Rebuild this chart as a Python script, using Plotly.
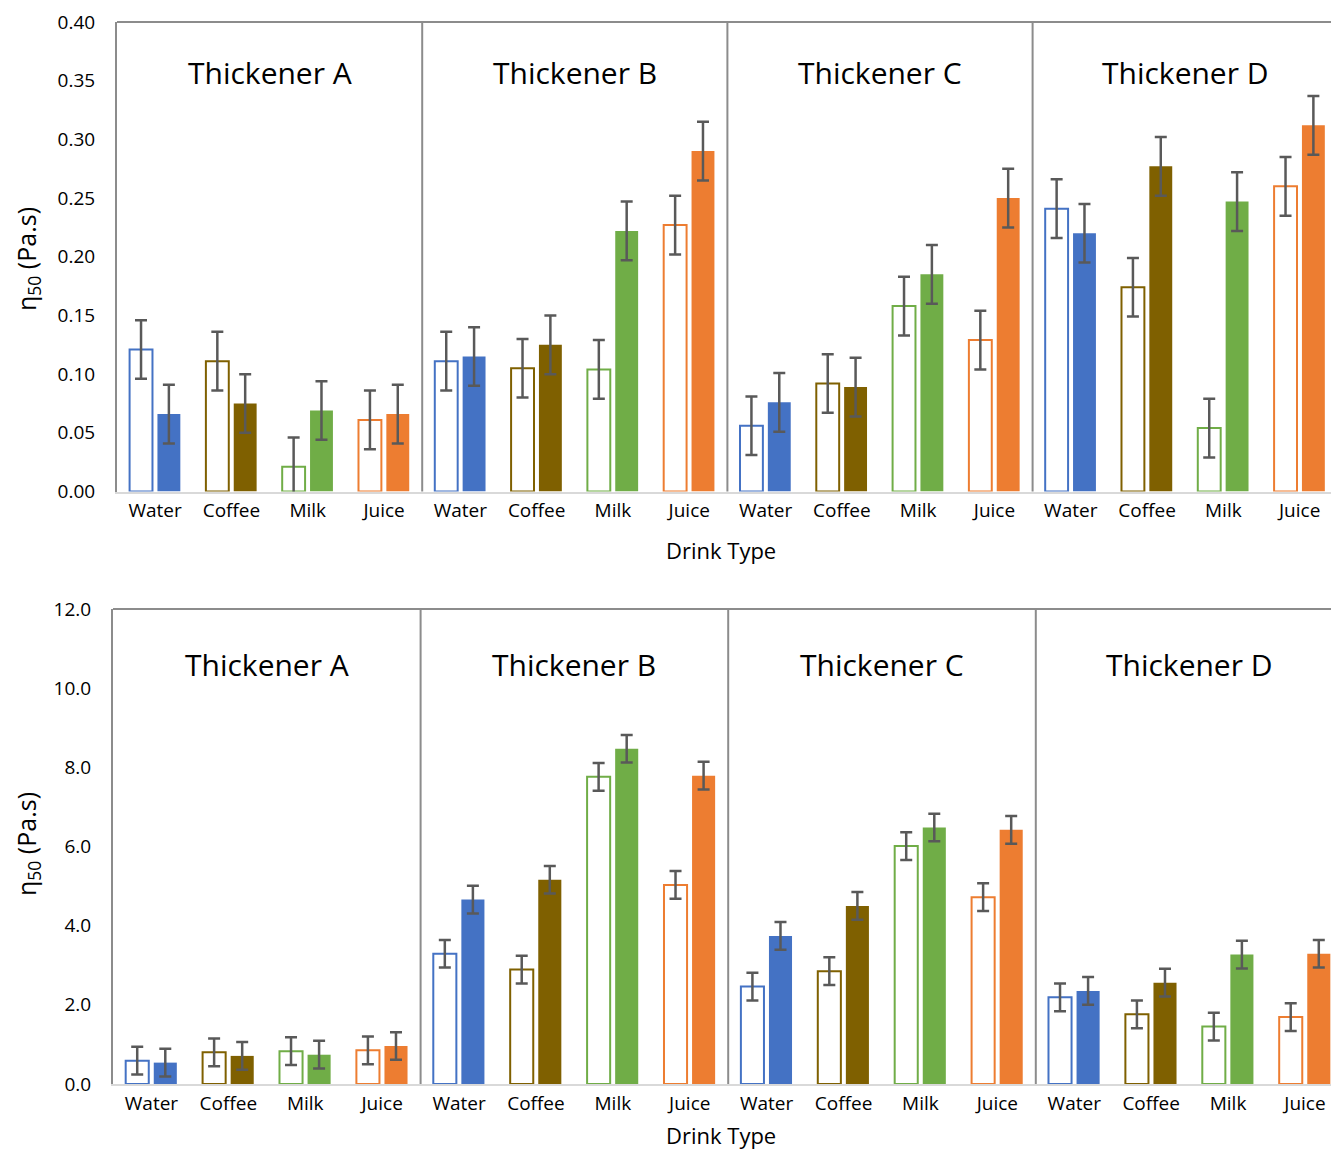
import plotly.graph_objects as go

# ---- data -------------------------------------------------------------
thickeners = ["Thickener A", "Thickener B", "Thickener C", "Thickener D"]
drinks = ["Water", "Coffee", "Milk", "Juice"]

# upper panel: eta50 (Pa.s), hollow (first) and solid (second) bar per drink
upper_hollow = [0.121, 0.111, 0.021, 0.061,
                0.111, 0.105, 0.104, 0.227,
                0.056, 0.092, 0.158, 0.129,
                0.241, 0.174, 0.054, 0.260]
upper_solid = [0.066, 0.075, 0.069, 0.066,
               0.115, 0.125, 0.222, 0.290,
               0.076, 0.089, 0.185, 0.250,
               0.220, 0.277, 0.247, 0.312]
upper_hollow_err = [0.025] * 16
upper_solid_err = [0.025] * 16

# lower panel: eta50 (Pa.s)
lower_hollow = [0.59, 0.80, 0.83, 0.85,
                3.29, 2.89, 7.76, 5.03,
                2.46, 2.85, 6.01, 4.72,
                2.19, 1.76, 1.45, 1.69]
lower_solid = [0.54, 0.71, 0.74, 0.96,
               4.66, 5.16, 8.47, 7.79,
               3.74, 4.50, 6.48, 6.42,
               2.35, 2.56, 3.27, 3.29]
lower_hollow_err = [0.35] * 16
lower_solid_err = [0.35] * 16

upper_ticks = [0.00, 0.05, 0.10, 0.15, 0.20, 0.25, 0.30, 0.35, 0.40]
lower_ticks = [0.0, 2.0, 4.0, 6.0, 8.0, 10.0, 12.0]

# ---- styling ------------------------------------------------------------
drink_colors = ["#4472C4", "#7F6000", "#70AD47", "#ED7D31"]
FONT = "Open Sans"
FRAME = "#8c8c8c"
BASE = "#d9d9d9"
ERR = "#595959"
W, H = 1331, 1150

n = len(thickeners) * len(drinks)
slot_x = [i + 0.5 for i in range(n)]
labels = drinks * len(thickeners)
bar_colors = drink_colors * len(thickeners)

fig = go.Figure()

panels = [
    dict(hollow=upper_hollow, solid=upper_solid, he=upper_hollow_err, se=upper_solid_err,
         xa="x", ya="y", left=117, top=22, bottom=491.5, slot=76.3,
         ticks=upper_ticks, fmt="{:.2f}", rng=0.40, title_y=73, xlab_y=550, ytitle_y=259),
    dict(hollow=lower_hollow, solid=lower_solid, he=lower_hollow_err, se=lower_solid_err,
         xa="x2", ya="y2", left=113, top=609, bottom=1084, slot=76.9,
         ticks=lower_ticks, fmt="{:.1f}", rng=12.0, title_y=664, xlab_y=1135, ytitle_y=844),
]

annotations = []
shapes = []
for k, p in enumerate(panels):
    err_style = dict(type="data", color=ERR, thickness=2.5, width=6, visible=True)
    fig.add_trace(go.Bar(
        x=slot_x, y=p["hollow"], xaxis=p["xa"], yaxis=p["ya"],
        offset=-0.335, width=0.30,
        marker=dict(color="rgba(255,255,255,0)", line=dict(color=bar_colors, width=2)),
        error_y=dict(array=p["he"], **err_style),
        showlegend=False, hoverinfo="skip"))
    fig.add_trace(go.Bar(
        x=slot_x, y=p["solid"], xaxis=p["xa"], yaxis=p["ya"],
        offset=0.03, width=0.30,
        marker=dict(color=bar_colors, line=dict(width=0)),
        error_y=dict(array=p["se"], **err_style),
        showlegend=False, hoverinfo="skip"))

    xspan = (W - p["left"]) / p["slot"]
    ax_suffix = "" if k == 0 else str(k + 1)
    fig.update_layout(**{
        "xaxis" + ax_suffix: dict(
            domain=[p["left"] / W, 1], anchor="y" + ax_suffix, range=[0, xspan],
            tickvals=slot_x, ticktext=labels, ticks="", showgrid=False, zeroline=False,
            showline=True, linecolor=BASE, linewidth=2,
            tickfont=dict(family=FONT, size=19, color="#000000"), ticklabelstandoff=1),
        "yaxis" + ax_suffix: dict(
            domain=[1 - p["bottom"] / H, 1 - p["top"] / H], anchor="x" + ax_suffix,
            range=[0, p["rng"]], tickvals=p["ticks"],
            ticktext=[p["fmt"].format(v) for v in p["ticks"]],
            ticks="", showgrid=False, zeroline=False,
            showline=True, linecolor=FRAME, linewidth=2,
            tickfont=dict(family=FONT, size=19, color="#000000"), ticklabelstandoff=16),
    })

    xref = p["xa"]
    yd = p["ya"] + " domain"
    # top frame line and separators between thickener groups
    shapes.append(dict(type="line", xref=xref + " domain", yref=yd,
                       x0=0, x1=1, y0=1, y1=1, line=dict(color=FRAME, width=2)))
    for g in range(1, len(thickeners)):
        shapes.append(dict(type="line", xref=xref, yref=yd,
                           x0=g * 4, x1=g * 4, y0=0, y1=1, line=dict(color=FRAME, width=2)))

    # group headings
    for g, name in enumerate(thickeners):
        annotations.append(dict(
            text=name, xref=xref, x=g * 4 + 2, yref="paper", y=1 - p["title_y"] / H,
            xanchor="center", yanchor="middle", showarrow=False,
            font=dict(family=FONT, size=30, color="#000000")))

    annotations.append(dict(
        text="Drink Type", xref="paper", x=721 / W, yref="paper", y=1 - p["xlab_y"] / H,
        xanchor="center", yanchor="middle", showarrow=False,
        font=dict(family=FONT, size=22, color="#000000")))
    annotations.append(dict(
        text="η<sub>50</sub> (Pa.s)", xref="paper", x=27 / W, yref="paper",
        y=1 - p["ytitle_y"] / H, textangle=-90,
        xanchor="center", yanchor="middle", showarrow=False,
        font=dict(family=FONT, size=25, color="#000000")))

fig.update_layout(
    template="none",
    width=W, height=H,
    margin=dict(l=0, r=0, t=0, b=0),
    paper_bgcolor="white", plot_bgcolor="white",
    barmode="overlay",
    shapes=shapes, annotations=annotations,
    font=dict(family=FONT, color="#000000"),
)

fig.write_html("out.html", config=dict(displayModeBar=False))
